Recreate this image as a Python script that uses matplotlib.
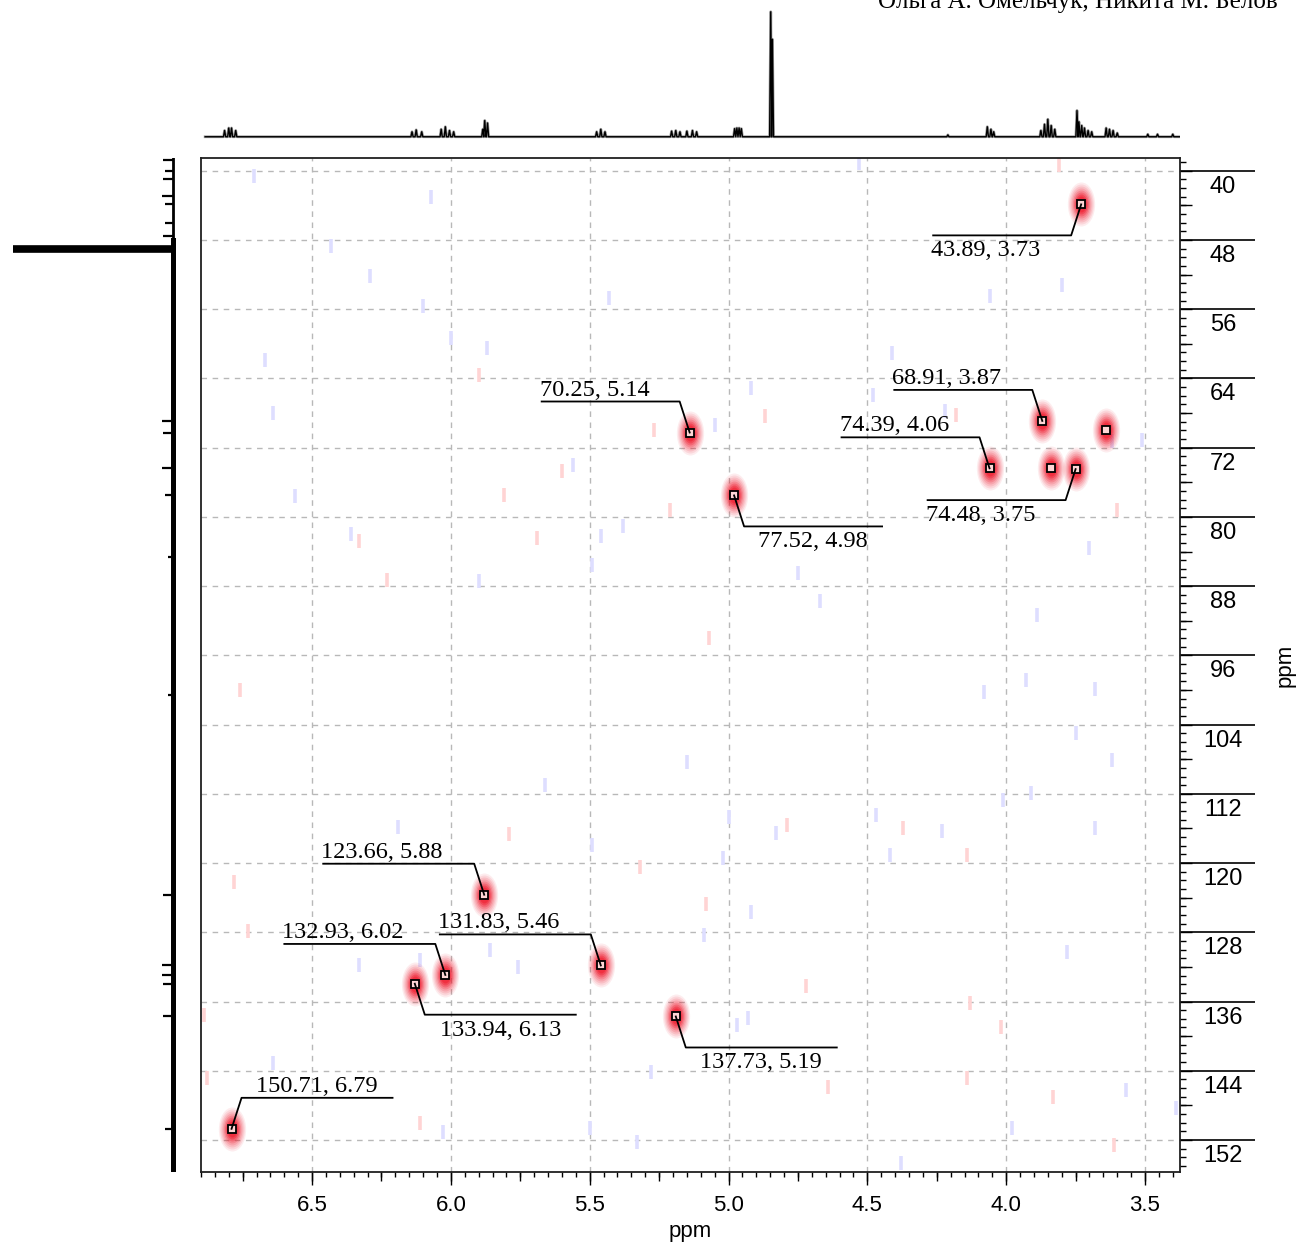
import numpy as np
import matplotlib
matplotlib.use("Agg")
import matplotlib.pyplot as plt
import matplotlib.transforms as mtransforms
from matplotlib.lines import Line2D
from matplotlib.path import Path
from matplotlib.ticker import MultipleLocator, FormatStrFormatter

W, H, DPI = 1298, 1250, 100

# --- HSQC cross peaks (13C ppm, 1H ppm) ---
peak_c = [43.89, 68.91, 70.25, 74.39, 74.48, 77.52, 123.66, 131.83, 132.93, 133.94, 137.73, 150.71]
peak_h = [3.73, 3.87, 5.14, 4.06, 3.75, 4.98, 5.88, 5.46, 6.02, 6.13, 5.19, 6.79]
# label leader: direction (-1 left / +1 right) and side of text
lab_dir = [-1, -1, -1, -1, -1, 1, -1, -1, -1, 1, 1, 1]
lab_side = ["below", "above", "above", "above", "below", "below",
            "above", "above", "above", "below", "below", "above"]
# unlabelled cross peaks
extra_c = [74.30, 70.00]
extra_h = [3.84, 3.64]

# --- 1H projection (top) ---
top_ppm = [6.815, 6.800, 6.790, 6.775, 6.140, 6.125, 6.105, 6.035, 6.020, 6.005, 5.990,
           5.885, 5.878, 5.868, 5.475, 5.460, 5.445, 5.205, 5.190, 5.175, 5.150, 5.130, 5.115,
           4.978, 4.970, 4.962, 4.954, 4.848, 4.842, 4.210, 4.068, 4.055, 4.045,
           3.875, 3.862, 3.850, 3.838, 3.825, 3.745, 3.738, 3.728, 3.718, 3.705, 3.692,
           3.640, 3.628, 3.615, 3.600, 3.490, 3.455, 3.400]
top_int = [0.05, 0.07, 0.07, 0.05, 0.04, 0.055, 0.04, 0.06, 0.08, 0.05, 0.04,
           0.06, 0.13, 0.11, 0.04, 0.06, 0.04, 0.045, 0.05, 0.04, 0.045, 0.05, 0.04,
           0.065, 0.07, 0.07, 0.065, 1.0, 0.78, 0.015, 0.08, 0.06, 0.04,
           0.05, 0.10, 0.14, 0.09, 0.06, 0.21, 0.12, 0.09, 0.07, 0.05, 0.04,
           0.07, 0.06, 0.05, 0.03, 0.02, 0.02, 0.02]

# --- 13C projection (left) ---
left_ppm = [38.8, 40.0, 41.0, 42.9, 43.89, 46.0, 47.5, 49.0, 68.91, 70.25, 74.39, 77.52,
            84.6, 100.6, 123.66, 131.83, 132.93, 133.94, 137.73, 150.71]
left_int = [0.06, 0.05, 0.06, 0.07, 0.05, 0.05, 0.06, 1.0, 0.07, 0.06, 0.07, 0.05,
            0.03, 0.03, 0.06, 0.07, 0.07, 0.06, 0.06, 0.05]

# --- faint noise specks ---
blue_h = [6.71, 6.07, 6.43, 6.29, 6.10, 6.00, 5.87, 6.67, 6.64, 5.56, 6.56, 6.36, 5.46, 5.38,
          5.49, 5.90, 5.43, 4.92, 5.05, 4.48, 4.22, 3.62, 3.51, 3.80, 4.06, 4.41, 4.75, 4.67,
          3.89, 3.70, 4.53, 5.66, 5.15, 6.19, 5.49, 5.86, 5.76, 6.33, 6.11, 6.03, 6.64, 5.28,
          5.50, 5.33, 4.08, 3.68, 3.93, 3.75, 3.62, 4.01, 3.91, 5.00, 4.83, 4.47, 4.23, 4.42,
          5.02, 3.68, 4.92, 5.09, 3.78, 4.97, 4.93, 3.57, 3.39, 3.98, 4.38]
blue_c = [40.6, 43.0, 48.7, 52.2, 55.6, 59.3, 60.5, 61.9, 68.0, 74.0, 77.6, 82.0, 82.2, 81.1,
          85.6, 87.4, 54.7, 65.1, 69.4, 65.9, 67.8, 71.2, 71.1, 53.2, 54.5, 61.1, 86.5, 89.7,
          91.3, 83.6, 39.1, 111.0, 108.3, 115.8, 117.9, 130.0, 132.0, 131.8, 131.2, 151.1, 143.1, 144.1,
          150.6, 152.2, 100.2, 99.9, 98.8, 105.0, 108.1, 112.7, 111.9, 114.7, 116.5, 114.4, 116.3, 119.1,
          119.4, 115.9, 125.6, 128.3, 130.3, 138.7, 137.9, 146.2, 148.3, 150.6, 154.7]
red_h = [5.90, 5.27, 5.60, 5.81, 5.21, 6.33, 5.69, 6.23, 4.87, 4.18, 5.07, 3.60, 3.81,
         5.79, 6.78, 6.73, 6.11, 6.88, 5.32, 6.89, 6.76, 4.79, 4.37, 4.14, 5.08, 4.72,
         4.02, 4.13, 4.64, 4.14, 3.83, 3.61]
red_c = [63.6, 70.0, 74.7, 77.5, 79.2, 82.8, 82.4, 87.3, 68.3, 68.2, 94.0, 79.2, 39.3,
         116.7, 122.2, 127.9, 150.0, 144.8, 120.4, 137.6, 100.0, 115.6, 115.9, 119.1, 124.7, 134.2,
         138.9, 136.2, 145.9, 144.8, 147.0, 152.6]

# axis ranges
XLIM = (6.9, 3.374)
YLIM = (155.7, 38.53)
ytick_vals = list(range(40, 153, 8))

PT = 0.72  # points per pixel at 100 dpi
sans = ["Liberation Sans Narrow", "Liberation Sans"]
serif = ["Liberation Serif"]

fig = plt.figure(figsize=(W / DPI, H / DPI), dpi=DPI)
fig.patch.set_facecolor("white")

# ---------------- main 2D panel ----------------
ax = fig.add_axes([201 / W, 78 / H, 979 / W, 1014 / H])
ax.set_xlim(*XLIM)
ax.set_ylim(*YLIM)
ax.set_axisbelow(True)
ax.grid(True, which="major", ls=(0, (4, 4)), color="#b8b8b8", lw=1.0)
for sp in ax.spines.values():
    sp.set_linewidth(1.3)
    sp.set_color("#202020")

ax.xaxis.set_major_locator(MultipleLocator(0.5))
ax.xaxis.set_minor_locator(MultipleLocator(0.05))
ax.xaxis.set_major_formatter(FormatStrFormatter("%.1f"))
ax.yaxis.tick_right()
ax.yaxis.set_major_locator(MultipleLocator(8))
ax.yaxis.set_minor_locator(MultipleLocator(1))
ax.tick_params(axis="x", which="major", length=13 * PT, width=1, pad=7, labelsize=16)
ax.tick_params(axis="x", which="minor", length=5 * PT, width=1)
ax.tick_params(axis="y", which="major", length=75 * PT, width=1.2, labelright=False, labelleft=False)
ax.tick_params(axis="y", which="minor", length=6 * PT, width=1)
for lab in ax.get_xticklabels():
    lab.set_family(sans)

secx = ax.secondary_xaxis("bottom")
secx.xaxis.set_major_locator(MultipleLocator(0.25))
secx.tick_params(length=9 * PT, width=1, labelbottom=False)
secx.spines["bottom"].set_visible(False)
secy = ax.secondary_yaxis("right")
secy.yaxis.set_major_locator(MultipleLocator(4))
secy.tick_params(length=12 * PT, width=1, labelright=False)
secy.spines["right"].set_visible(False)

ax.set_xlabel("ppm", family=sans, fontsize=16, labelpad=4)

ylab_tr = (mtransforms.blended_transform_factory(ax.transAxes, ax.transData)
           + mtransforms.ScaledTranslation(43 / DPI, -16 / DPI, fig.dpi_scale_trans))
for v in ytick_vals:
    ax.text(1, v, str(v), transform=ylab_tr, ha="center", va="center",
            family=sans, fontsize=17, clip_on=False)
fig.text(1285 / W, 1 - 665 / H, "ppm", rotation=90, ha="center", va="center",
         family=sans, fontsize=16)

# noise specks
ax.plot(blue_h, blue_c, ls="none", marker="|", ms=10, mew=2.6, color="#dedeff", zorder=1)
ax.plot(red_h, red_c, ls="none", marker="|", ms=10, mew=2.6, color="#ffd4d4", zorder=1)

# cross-peak glow
ell = Path.unit_circle().transformed(mtransforms.Affine2D().scale(0.62, 1.0))
all_h = peak_h + extra_h
all_c = peak_c + extra_c
for hgt, a in [(44, 0.08), (40, 0.10), (36, 0.12), (32, 0.15), (28, 0.2),
               (24, 0.28), (20, 0.38), (16, 0.5)]:
    ax.scatter(all_h, all_c, s=(hgt * PT) ** 2, marker=ell, color="#f0182a",
               alpha=a, linewidths=0, zorder=2)

# leader lines and labels
ident = mtransforms.IdentityTransform()
for c, h, d, side in zip(peak_c, peak_h, lab_dir, lab_side):
    x0, y0 = ax.transData.transform((h, c))
    L = 138 if c < 100 else 151
    y1 = y0 + (31 if side == "above" else -31)
    x1 = x0 + 10 * d
    x2 = x1 + d * L
    fig.add_artist(Line2D([x0, x1, x2], [y0, y1, y1], transform=ident,
                          color="black", lw=1.3, zorder=3))
    if d < 0:
        tx, ha = x2 - 2, "left"
    else:
        tx, ha = (x1 + x2) / 2, "center"
    if side == "above":
        ty, va = y1 + 6, "baseline"
    else:
        ty, va = y1 - 5, "top"
    fig.text(tx, ty, f"{c:.2f}, {h:.2f}", transform=ident, ha=ha, va=va,
             family=serif, fontsize=17.5, zorder=5)

ax.plot(all_h, all_c, ls="none", marker="s", ms=8 * PT, mfc="#ffd6d6",
        mec="black", mew=1.3, zorder=4)

# ---------------- 1H projection ----------------
axt = fig.add_axes([201 / W, 1 - 150 / H, 979 / W, 150 / H])
axt.set_xlim(*XLIM)
axt.set_ylim(-0.106, 1.094)
axt.axis("off")
hw = 0.004
xs, ys = [6.885], [0.0]
for i in np.argsort(top_ppm)[::-1]:
    xs += [top_ppm[i] + hw, top_ppm[i], top_ppm[i] - hw]
    ys += [0.0, top_int[i], 0.0]
xs.append(XLIM[1])
ys.append(0.0)
axt.plot(xs, ys, color="#a0a0a0", lw=2.0)
axt.plot(xs, ys, color="black", lw=1.0)

# ---------------- 13C projection ----------------
axl = fig.add_axes([0, 78 / H, 200 / W, 1014 / H])
axl.set_ylim(*YLIM)
axl.set_xlim(1.081, -0.169)
axl.axis("off")
axl.plot([0, 0], [YLIM[1], 48.0], color="black", lw=2.0)
axl.plot([0, 0], [48.0, YLIM[0]], color="black", lw=3.6)
axl.hlines(left_ppm, 0, left_int, color="black",
           linewidths=[5.5 if v > 0.5 else 1.6 for v in left_int])

# header (cropped author line)
fig.text(878 / W, 1 - 8 / H, "Ольга А. Омельчук, Никита М. Белов",
         family=serif, fontsize=18, va="baseline", ha="left")

fig.savefig("out.png", dpi=DPI)
